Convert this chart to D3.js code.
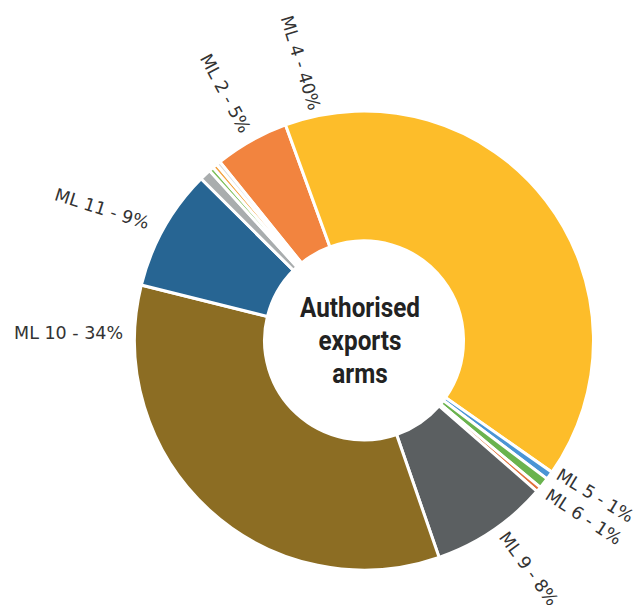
<!DOCTYPE html>
<html>
<head>
<meta charset="utf-8">
<script src="https://cdn.jsdelivr.net/npm/d3@7"></script>
<style>
  html, body { margin: 0; padding: 0; background: #ffffff; }
  svg { display: block; }
</style>
</head>
<body>
<svg id="chart" width="633" height="605"></svg>
<script>
// ---- data ----
const categories = ["ML 2", "ML 4", "ML 5", "ML 6", "ML 8", "ML 9", "ML 10", "ML 11", "ML 13", "ML 15", "ML 18", "ML 22"];
const shares     = [5.25, 40.28, 0.58, 0.75, 0.36, 8.28, 34.19, 8.56, 0.81, 0.33, 0.33, 0.28];
const colors     = ["#f2843f", "#fdbd2a", "#4a95d5", "#6ab34e", "#e0703a", "#5b5f61", "#8c6d23", "#276593", "#a9adae", "#7cbf5a", "#f2a23f", "#d9d9d9"];
const labelled   = ["ML 2", "ML 4", "ML 5", "ML 6", "ML 9", "ML 10", "ML 11"];
const centerTitle = ["Authorised", "exports", "arms"];

// ---- layout ----
const cx = 364, cy = 340.5, outerR = 229.5, innerR = 99.5;
const startDeg = -38.9;
const labelLayout = {
  "ML 2":  { phi: -29.5, r: 240,   rot: 61.8, anchor: "end" },
  "ML 4":  { phi: -12.0, r: 236,   rot: 73.0, anchor: "end" },
  "ML 11": { phi: -61.5, r: 245,   rot: 17.7, anchor: "end" },
  "ML 10": { phi: -88.3, r: 241,   rot: 0,    anchor: "end" },
  "ML 5":  { phi: 124.3, r: 235,   rot: 31.3, anchor: "start" },
  "ML 6":  { phi: 129.8, r: 238.6, rot: 33.0, anchor: "start" },
  "ML 9":  { phi: 144.2, r: 238,   rot: 54.0, anchor: "start" }
};

const data = categories.map((c, i) => ({ name: c, value: shares[i], color: colors[i] }));
const rad = d => d * Math.PI / 180;

const svg = d3.select("#chart");
const g = svg.append("g").attr("transform", `translate(${cx},${cy})`);

const pie = d3.pie().sort(null).value(d => d.value)
  .startAngle(rad(startDeg)).endAngle(rad(startDeg) + 2 * Math.PI);
const arc = d3.arc().innerRadius(innerR).outerRadius(outerR);

g.selectAll("path.slice")
  .data(pie(data))
  .join("path")
  .attr("class", "slice")
  .attr("d", arc)
  .attr("fill", d => d.data.color)
  .attr("stroke", "#ffffff")
  .attr("stroke-width", 3)
  .attr("stroke-linejoin", "miter");

// labels
const labelData = data.filter(d => labelled.includes(d.name));
g.selectAll("text.lbl")
  .data(labelData)
  .join("text")
  .attr("class", "lbl")
  .attr("transform", d => {
    const L = labelLayout[d.name];
    const x = L.r * Math.sin(rad(L.phi));
    const y = -L.r * Math.cos(rad(L.phi));
    return `translate(${x},${y}) rotate(${L.rot})`;
  })
  .attr("text-anchor", d => labelLayout[d.name].anchor)
  .attr("dy", "0.35em")
  .style("font-family", "'DejaVu Sans', sans-serif")
  .style("font-size", "17.5px")
  .attr("fill", "#333333")
  .text(d => `${d.name} - ${Math.round(d.value)}%`);

// center title (condensed look)
const title = g.append("text")
  .attr("transform", "translate(-4,0) scale(0.9,1)")
  .attr("text-anchor", "middle")
  .style("font-family", "'Roboto', sans-serif")
  .style("font-weight", "700")
  .style("font-size", "27px")
  .attr("fill", "#222222");
title.selectAll("tspan")
  .data(centerTitle)
  .join("tspan")
  .attr("x", 0)
  .attr("y", (d, i) => -23.2 + i * 32.7)
  .text(d => d);
</script>
</body>
</html>
